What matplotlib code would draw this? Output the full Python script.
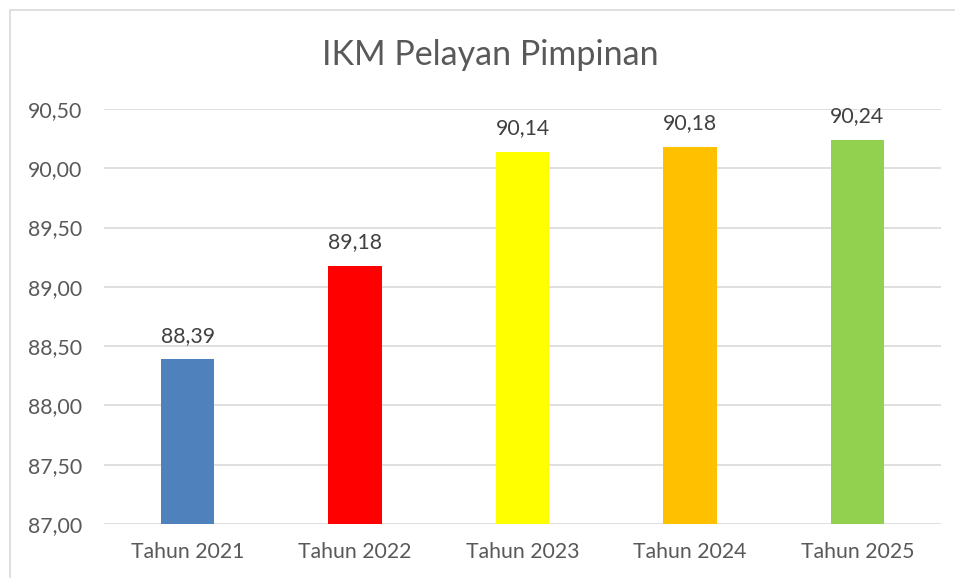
import matplotlib
matplotlib.use("Agg")
import matplotlib.pyplot as plt
from matplotlib.patches import Rectangle
from matplotlib.ticker import FuncFormatter

categories = ["Tahun 2021", "Tahun 2022", "Tahun 2023", "Tahun 2024", "Tahun 2025"]
values = [88.39, 89.18, 90.14, 90.18, 90.24]
colors = ["#4F81BD", "#FF0000", "#FFFF00", "#FFC000", "#92D050"]
y_ticks = [87.0, 87.5, 88.0, 88.5, 89.0, 89.5, 90.0, 90.5]

plt.rcParams["font.family"] = ["Lato", "DejaVu Sans"]
text_col = "#595959"
grid_col = "#D9D9D9"

fig = plt.figure(figsize=(9.55, 5.78), dpi=100)
W, H = 955, 578
ax = fig.add_axes([104 / W, 1 - 524 / H, (941 - 104) / W, (524 - 109) / H])

x = range(len(categories))
bars = ax.bar(x, values, width=0.32, color=colors, bottom=0, zorder=3)
ax.set_ylim(87.0, 90.5)
ax.set_xlim(-0.5, len(categories) - 0.5)
ax.set_yticks(y_ticks)
ax.yaxis.set_major_formatter(FuncFormatter(lambda v, p: f"{v:.2f}".replace(".", ",")))
ax.set_xticks(list(x))
ax.set_xticklabels(categories)
ax.tick_params(axis="both", length=0, labelsize=15.3, colors=text_col)
ax.tick_params(axis="y", pad=16)
ax.tick_params(axis="x", pad=13)
ax.grid(axis="y", color=grid_col, linewidth=1.2, zorder=0)
for s in ax.spines.values():
    s.set_visible(False)

for xi, v in zip(x, values):
    ax.annotate(f"{v:.2f}".replace(".", ","), (xi, v), xytext=(0, 12.5),
                textcoords="offset points", ha="center", va="baseline",
                fontsize=15.3, color="#404040")

fig.text(490 / W, 1 - 55 / H, "IKM Pelayan Pimpinan", ha="center", va="center",
         fontsize=24.5, color=text_col)

# chart border (Excel frame), runs off the right and bottom edges
fig.patches.append(Rectangle((10 / W, -0.1), 1.0, 1.1 - 10 / H, transform=fig.transFigure,
                             fill=False, edgecolor=grid_col, linewidth=1.2))

fig.savefig("out.png", dpi=100)
